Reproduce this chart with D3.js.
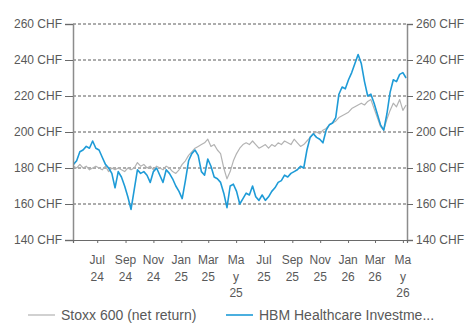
<!DOCTYPE html>
<html>
<head>
<meta charset="utf-8">
<script src="https://cdn.jsdelivr.net/npm/d3@7"></script>
<style>
  body { margin: 0; background: #fff; }
  text { font-family: "Liberation Sans", Arial, sans-serif; fill: #595959; }
</style>
</head>
<body>
<script>
var width = 466,
    height = 329,
    margin = {top: 24, right: 59, bottom: 89, left: 73};

// weekly closes, first week ending 2024-05-10
var startDate = "2024-05-10";
var hbm = [182,184,189,190,192,191,195,191,190,186,
           182,180,177,169,178,175,170,164,157,168,
           179,177,178,176,172,178,180,176,172,179,
           177,174,170,167,163,173,184,188,190,187,
           178,176,185,181,175,174,172,166,158,170,
           171,167,160,163,166,165,170,164,162,165,
           162,164,167,169,172,173,176,175,177,178,
           179,181,180,190,197,199,197,196,194,201,
           204,205,208,221,225,224,229,233,238,243,
           238,228,220,221,216,210,204,201,210,222,
           229,228,232,233,230];
var stoxx = [181,180,182,180,181,179,180,181,180,179,
             181,178,180,179,180,179,178,180,179,180,
             183,181,182,180,181,179,181,180,179,181,
             180,178,177,179,182,184,187,189,191,192,
             193,194,196,192,193,190,188,180,174,178,
             184,188,191,193,194,193,195,193,191,192,
             193,191,193,192,194,193,195,194,193,196,
             194,192,193,195,197,199,200,199,201,202,
             204,205,206,208,209,210,211,213,214,215,
             216,215,217,218,213,208,203,201,207,212,
             216,214,218,212,215];

var yTicks = [140, 160, 180, 200, 220, 240, 260];
var xTickDates = ["2024-07-01","2024-09-01","2024-11-01","2025-01-01","2025-03-01","2025-05-01",
                  "2025-07-01","2025-09-01","2025-11-01","2026-01-01","2026-03-01","2026-05-01"];
var xTickLabels = [["Jul","24"],["Sep","24"],["Nov","24"],["Jan","25"],["Mar","25"],["Ma","y","25"],
                   ["Jul","25"],["Sep","25"],["Nov","25"],["Jan","26"],["Mar","26"],["Ma","y","26"]];
var seriesNames = ["Stoxx 600 (net return)", "HBM Healthcare Investme..."];
var seriesColors = ["#b3b3b3", "#1e9bd7"];

var parse = d3.timeParse("%Y-%m-%d");
var start = parse(startDate);
var dates = hbm.map(function(d, i) { return d3.timeDay.offset(start, 7 * i); });

var svg = d3.select("body").append("svg")
    .attr("width", width)
    .attr("height", height);

var x = d3.scaleTime()
    .domain([parse("2024-05-09"), parse("2026-05-10")])
    .range([margin.left, width - margin.right]);

var y = d3.scaleLinear()
    .domain([140, 260])
    .range([height - margin.bottom, margin.top]);

// dashed grid
svg.append("g")
  .selectAll("line")
  .data(yTicks.filter(function(d) { return d > 140; }))
  .enter().append("line")
    .attr("x1", x.range()[0])
    .attr("x2", x.range()[1])
    .attr("y1", function(d) { return y(d); })
    .attr("y2", function(d) { return y(d); })
    .attr("stroke", "#5a5a5a")
    .attr("stroke-width", 1)
    .attr("stroke-dasharray", "3,2");

var line = d3.line()
    .x(function(d, i) { return x(dates[i]); })
    .y(function(d) { return y(d); });

svg.append("path")
    .datum(stoxx)
    .attr("fill", "none")
    .attr("stroke", seriesColors[0])
    .attr("stroke-width", 1.2)
    .attr("stroke-linejoin", "round")
    .attr("d", line);

svg.append("path")
    .datum(hbm)
    .attr("fill", "none")
    .attr("stroke", seriesColors[1])
    .attr("stroke-width", 1.6)
    .attr("stroke-linejoin", "round")
    .attr("d", line);

// axes
var axisColor = "#8c8c8c";
var yLeft = svg.append("g")
    .attr("transform", "translate(" + margin.left + ",0)")
    .call(d3.axisLeft(y).tickValues(yTicks).tickSize(8).tickPadding(3)
      .tickFormat(function(d) { return d + " CHF"; }));
var yRight = svg.append("g")
    .attr("transform", "translate(" + (width - margin.right) + ",0)")
    .call(d3.axisRight(y).tickValues(yTicks).tickSize(6).tickPadding(3)
      .tickFormat(function(d) { return d + " CHF"; }));
[yLeft, yRight].forEach(function(g) {
  g.select(".domain").attr("stroke", axisColor).attr("stroke-width", 1.5);
  g.selectAll(".tick line").attr("stroke", "#6a6a6a");
  g.selectAll(".tick text").attr("font-size", 12).style("fill", "#595959");
});

var xAxis = svg.append("g")
    .attr("transform", "translate(0," + y(140) + ")")
    .call(d3.axisBottom(x).tickValues(xTickDates.map(parse)).tickSize(3).tickFormat(""));
xAxis.select(".domain").attr("stroke", "#6a6a6a").attr("stroke-width", 1.2);
xAxis.selectAll(".tick line").attr("stroke", "#6a6a6a");

var xLabels = svg.append("g")
  .selectAll("text")
  .data(xTickDates)
  .enter().append("text")
    .attr("text-anchor", "middle")
    .attr("font-size", 12)
    .attr("transform", function(d) { return "translate(" + x(parse(d)) + "," + (y(140) + 24) + ")"; });
xLabels.each(function(d, i) {
  var t = d3.select(this);
  xTickLabels[i].forEach(function(s, k) {
    t.append("tspan").attr("x", 0).attr("y", k * 16.5).text(s);
  });
});

// legend
var legendItems = [{x: 28, name: seriesNames[0], color: seriesColors[0], w: 1.2},
                   {x: 226, name: seriesNames[1], color: seriesColors[1], w: 1.6}];
var legend = svg.append("g")
  .selectAll("g")
  .data(legendItems)
  .enter().append("g")
    .attr("transform", function(d) { return "translate(" + d.x + ",315)"; });
legend.append("line")
    .attr("x1", 0).attr("x2", 27)
    .attr("stroke", function(d) { return d.color; })
    .attr("stroke-width", function(d) { return d.w; });
legend.append("text")
    .attr("x", 33)
    .attr("dy", "0.35em")
    .attr("font-size", 14)
    .text(function(d) { return d.name; });
</script>
</body>
</html>
